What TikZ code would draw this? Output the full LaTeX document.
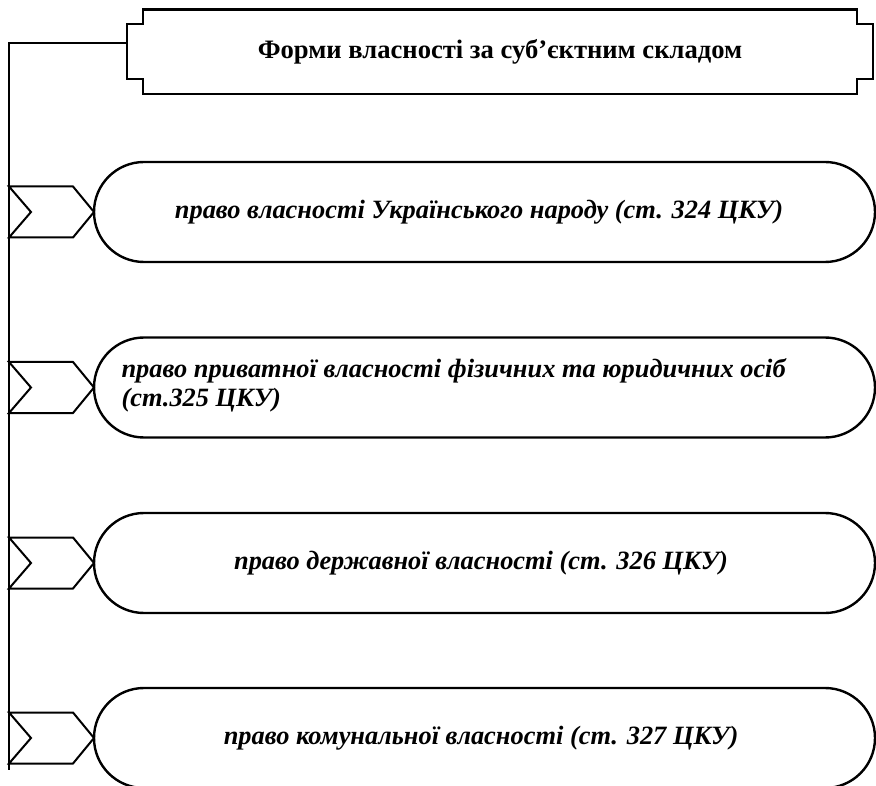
\documentclass[tikz,border=0pt]{standalone}
\usepackage{fontspec}
\setmainfont{Liberation Serif}
\begin{document}
\begin{tikzpicture}[x=1pt,y=-1pt,
  titlebox/.style={line width=2.6pt,line join=miter},
  spine/.style={line width=2.6pt},
  chev/.style={line width=2pt,line join=miter},
  itembox/.style={draw,line width=2.4pt,rounded corners=50pt,minimum width=781pt,minimum height=100pt,inner sep=0pt},
  itemtext/.style={font=\fontsize{26.4}{29}\selectfont\bfseries\itshape},
  titletext/.style={font=\fontsize{26.6}{30}\selectfont\bfseries}]
\useasboundingbox (0,0) rectangle (876,786);
\clip (0,0) rectangle (876,786);
% title box
\draw[titlebox] (143,9.5) -- (857,9.5) -- (857,24) -- (873,24) -- (873,79) -- (857,79) -- (857,94)
  -- (143,94) -- (143,79) -- (127,79) -- (127,24) -- (143,24) -- cycle;
\node[titletext] (title) at (500,52) {Форми власності за суб’єктним складом};
\coordinate (tl) at (127,43);
\coordinate (top) at (9,43);
\coordinate (bot) at (9,770);
\draw[spine] (tl) -- (top) -- (bot);
% items
\foreach \cy/\nm in {212/a,387.5/b,563/c,738/d}{
  \draw[chev] (9,\cy-25.5) -- (73,\cy-25.5) -- (94,\cy) -- (73,\cy+25.5) -- (9,\cy+25.5) -- (31,\cy) -- cycle;
  \node[itembox] (box\nm) at (484.5,\cy) {};
}
\node[itemtext] (ta) at (479,212) {право власності Українського народу (ст. 324 ЦКУ)};
\node[itemtext,align=left,anchor=west] (tb) at (118,385) {право приватної власності фізичних та юридичних осіб\\(ст.325 ЦКУ)};
\node[itemtext] (tc) at (481,563) {право державної власності (ст. 326 ЦКУ)};
\node[itemtext] (td) at (481,738) {право комунальної власності (ст. 327 ЦКУ)};
\end{tikzpicture}
\end{document}
